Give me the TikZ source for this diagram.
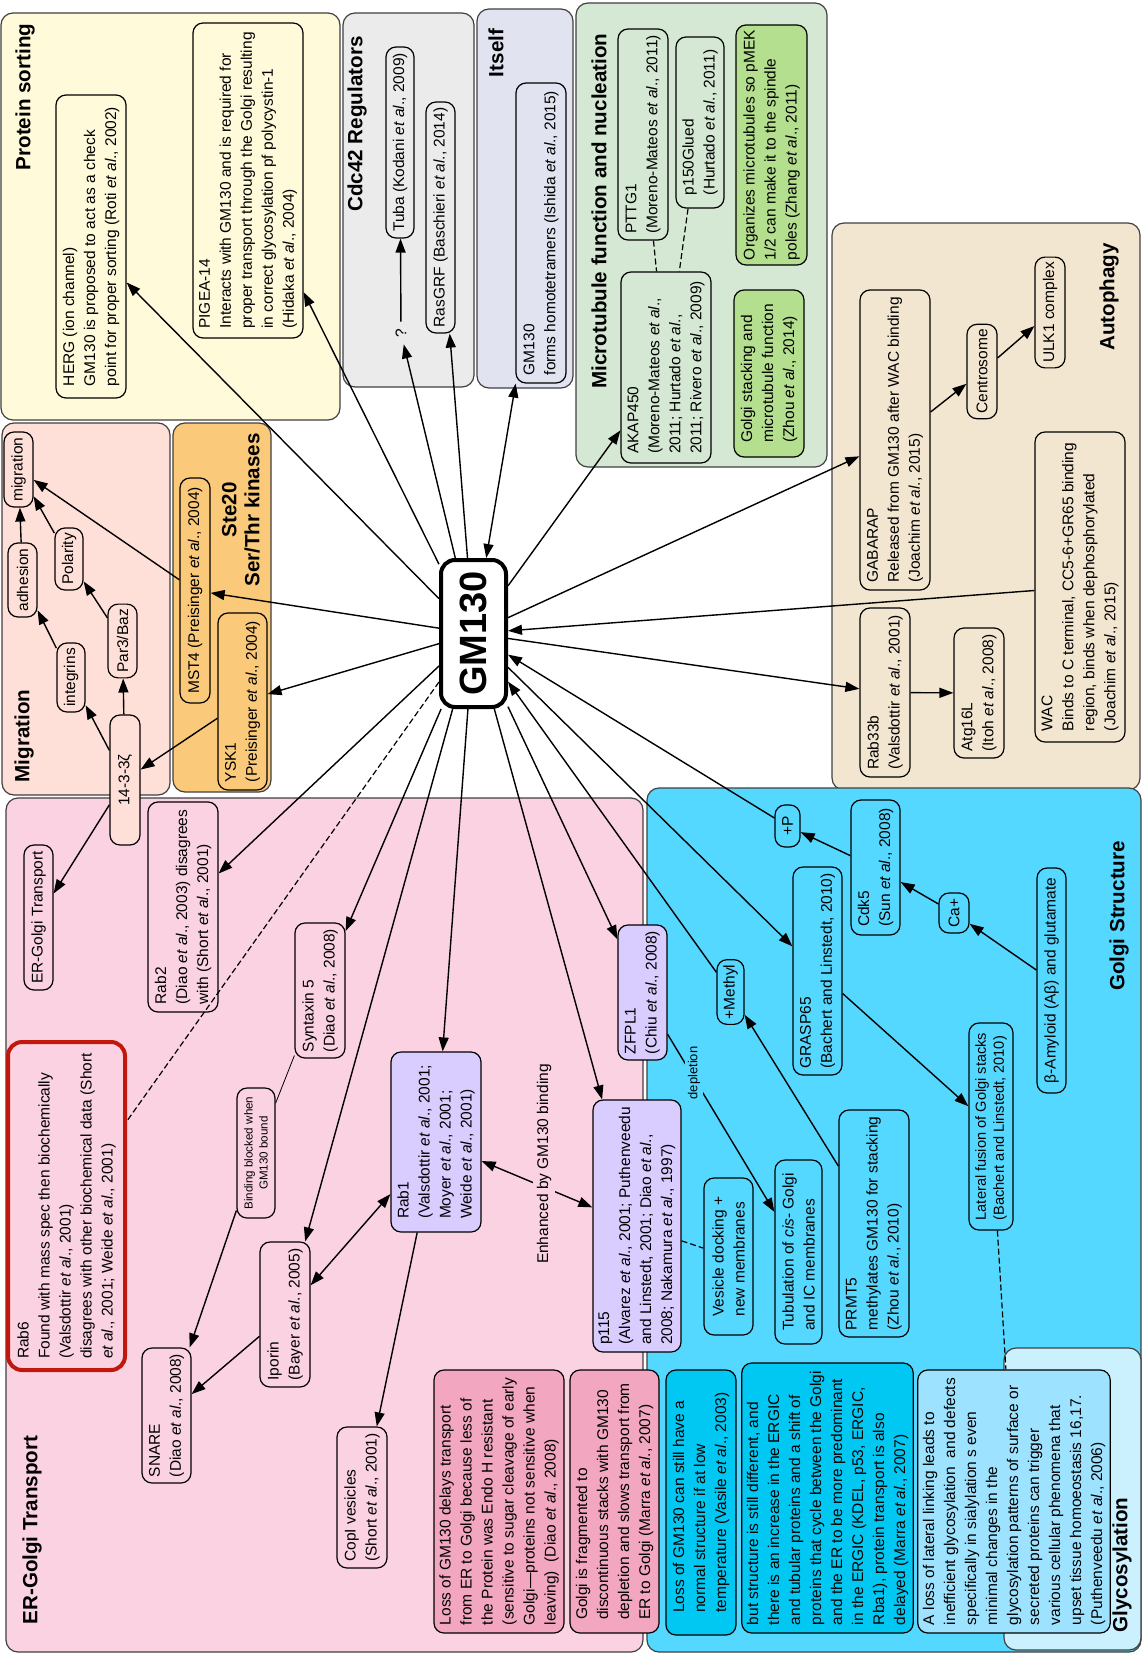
\documentclass[tikz,border=0pt]{standalone}
\usepackage{fontspec}
\setmainfont{Liberation Sans}
\usetikzlibrary{arrows.meta}

\definecolor{sortcol}{HTML}{FFFAD9}
\definecolor{cdccol}{HTML}{EBEBEB}
\definecolor{selfcol}{HTML}{E1E3F0}
\definecolor{micol}{HTML}{D5E8D4}
\definecolor{leafcol}{HTML}{B4DF8E}
\definecolor{autocol}{HTML}{F3E6D0}
\definecolor{migcol}{HTML}{FFE0D8}
\definecolor{stecol}{HTML}{FBC97A}
\definecolor{ergcol}{HTML}{FAD2E1}
\definecolor{dpink}{HTML}{F3A6C0}
\definecolor{golcol}{HTML}{55D8FF}
\definecolor{dcyan}{HTML}{00C8F2}
\definecolor{glycol}{HTML}{CBF1FF}
\definecolor{lcyan}{HTML}{9DE3FF}
\definecolor{lavcol}{HTML}{D9CCFF}
\definecolor{rabred}{HTML}{C0180C}

\newcommand{\boxfont}{\fontsize{7.75}{10.5}\selectfont}
\newcommand{\latfont}{\fontsize{7.3}{9}\selectfont}
\newcommand{\tinyboxfont}{\fontsize{5.8}{7.5}\selectfont}
\newcommand{\depfont}{\fontsize{6.5}{7.5}\selectfont}
\newcommand{\headfont}{\fontsize{10.3}{11.5}\selectfont\bfseries}
\newcommand{\gmfont}{\fontsize{19}{21}\selectfont\bfseries}

\begin{document}
\begin{tikzpicture}[x=0.5pt, y=-0.5pt,
  box/.style={draw, rounded corners=5pt, rotate=90, align=left, inner sep=2.5pt, line width=0.6pt, font=\boxfont},
  sz/.style 2 args={minimum height=#1*0.5pt, minimum width=#2*0.5pt},
  panel/.style={draw=black!75, rounded corners=6pt, line width=0.6pt},
  head/.style={rotate=90, align=center, font=\headfont},
  gmbox/.style={draw, line width=2pt, rounded corners=7pt, rotate=90, fill=white, font=\gmfont, minimum width=73.5pt, minimum height=32.5pt, inner sep=2pt},
  arr/.style={line width=0.7pt, -{Triangle[length=7pt,width=5pt]}},
  arrb/.style={line width=0.7pt, {Triangle[length=7pt,width=5pt]}-{Triangle[length=7pt,width=5pt]}},
  dsh/.style={line width=0.6pt, dash pattern=on 3pt off 1.5pt}]

\useasboundingbox (0,0) rectangle (1142,1653);

% panels
\draw[panel, fill=sortcol] (1,13) rectangle (340,420);
\draw[panel, fill=cdccol] (343,13) rectangle (474,387);
\draw[panel, fill=selfcol] (477,9) rectangle (573,388);
\draw[panel, fill=micol] (576,3) rectangle (827,467);
\draw[panel, fill=autocol] (832,223) rectangle (1140,790);
\draw[panel, fill=migcol] (2,423) rectangle (170,795);
\draw[panel, fill=stecol] (173,423) rectangle (271,792);
\draw[panel, fill=ergcol] (6,798) rectangle (643,1652);
\draw[panel, fill=golcol] (647,788) rectangle (1141,1652);
\draw[panel, fill=glycol] (1004,1348) rectangle (1141,1650);

% protein sorting
\node[head] (tsort) at (25,97) {Protein sorting};
\node[box, sz={70}{303}] (herg) at (91,246.5) {HERG (ion channel)\\GM130 is proposed to act as a check\\point for proper sorting (Roti \textit{et al}., 2002)};
\node[box, sz={110}{315}] (pigea) at (248,180.5) {PIGEA-14\\Interacts with GM130 and is required for\\proper transport through the Golgi resulting\\in correct glycosylation pf polycystin-1\\(Hidaka \textit{et al}., 2004)};

% cdc42
\node[head] (tcdc) at (357,124) {Cdc42 Regulators};
\node[box, sz={28}{191}] (tuba) at (400,142.5) {Tuba (Kodani \textit{et al}., 2009)};
\node[rotate=90, font=\boxfont] (q) at (401,333) {?};
\node[box, sz={29}{231}] (rasgrf) at (440.5,217.5) {RasGRF (Baschieri \textit{et al}., 2014)};

% itself
\node[head] (tself) at (496,53) {Itself};
\node[box, sz={50}{300}] (itself) at (541,233) {GM130\\forms homotetramers (Ishida \textit{et al}., 2015)};

% microtubules
\node[head] (tmicro) at (599,211) {Microtubule function and nucleation};
\node[box, sz={50}{211}] (pttg) at (643,134.5) {PTTG1\\(Moreno-Mateos \textit{et al}., 2011)};
\node[box, sz={48}{171}] (pglued) at (700,122.5) {p150Glued\\(Hurtado \textit{et al}., 2011)};
\node[box, sz={90}{191}] (akap) at (666,367.5) {AKAP450\\(Moreno-Mateos \textit{et al}.,\\2011; Hurtado \textit{et al}.,\\2011; Rivero \textit{et al}., 2009)};
\node[box, fill=leafcol, sz={71}{240}] (organ) at (771.5,145) {Organizes microtubules so pMEK\\1/2 can make it to the spindle\\poles (Zhang \textit{et al}., 2011)};
\node[box, fill=leafcol, sz={70}{167}] (gstack) at (769,373.5) {Golgi stacking and\\microtubule function\\(Zhou \textit{et al}., 2014)};

% autophagy
\node[head] (tauto) at (1109,297) {Autophagy};
\node[box, sz={30}{109}] (ulk) at (1050,312.5) {ULK1 complex};
\node[box, sz={30}{87}] (centro) at (982,371.5) {Centrosome};
\node[box, sz={70}{300}] (gabarap) at (895,440) {GABARAP\\Released from GM130 after WAC binding\\(Joachim \textit{et al}., 2015)};
\node[box, sz={90}{310}] (wac) at (1080,587) {WAC\\Binds to C terminal, CC5-6+GR65 binding\\region, binds when dephosphorylated\\(Joachim \textit{et al}., 2015)};
\node[box, sz={50}{169}] (rabtt) at (885,692.5) {Rab33b\\(Valsdottir \textit{et al}., 2001)};
\node[box, sz={50}{130}] (atg) at (979,693) {Atg16L\\(Itoh \textit{et al}., 2008)};

% migration and kinases
\node[head] (tmig) at (24,736) {Migration};
\node[box, sz={29}{75}] (migr) at (18.5,469.5) {migration};
\node[box, sz={29}{74}] (adh) at (22.5,580) {adhesion};
\node[box, sz={28}{62}] (pol) at (69,559) {Polarity};
\node[box, sz={28}{69}] (integ) at (71,677.5) {integrins};
\node[box, sz={29}{72}] (par) at (122.5,641) {Par3/Baz};
\node[box, fill=migcol, align=center, sz={30}{130}] (ftz) at (125,780) {14-3-3ζ};
\node[head] (tste) at (241,510) {Ste20\\Ser/Thr kinases};
\node[box, sz={30}{225}] (mst) at (195,590.5) {MST4 (Preisinger \textit{et al}., 2004)};
\node[box, sz={49}{177}] (ysk) at (242.5,701.5) {YSK1\\(Preisinger \textit{et al}., 2004)};

% ER-Golgi transport
\node[head] (terg) at (32,1530) {ER-Golgi Transport};
\node[box, sz={29}{145}] (ergt) at (38.5,917.5) {ER-Golgi Transport};
\node[box, sz={70}{210}] (rabtwo) at (183,907) {Rab2\\(Diao \textit{et al}., 2003) disagrees\\with (Short \textit{et al}., 2001)};
\node[box, draw=rabred, line width=2pt, rounded corners=7pt, sz={117}{328}] (rabsix) at (66.5,1206) {Rab6\\Found with mass spec then biochemically\\(Valsdottir \textit{et al}., 2001)\\disagrees with other biochemical data (Short\\\textit{et al}., 2001; Weide \textit{et al}., 2001)};
\node[box, sz={50}{135}] (syn) at (320,990.5) {Syntaxin 5\\(Diao \textit{et al}., 2008)};
\node[box, fill=ergcol, align=center, font=\tinyboxfont, sz={38}{130}] (bind) at (256,1153) {Binding blocked when\\GM130 bound};
\node[box, sz={50}{145}] (ipor) at (285,1314.5) {Iporin\\(Bayer \textit{et al}., 2005)};
\node[box, sz={49}{135}] (snare) at (166.5,1415.5) {SNARE\\(Diao \textit{et al}., 2008)};
\node[box, sz={50}{141}] (copi) at (362,1497.5) {CopI vesicles\\(Short \textit{et al}., 2001)};
\node[box, fill=lavcol, sz={90}{180}] (rabone) at (436,1142) {Rab1\\(Valsdottir \textit{et al}., 2001;\\Moyer \textit{et al}., 2001;\\Weide \textit{et al}., 2001)};
\node[box, fill=lavcol, sz={88}{252}] (pfif) at (637,1226) {p115\\(Alvarez \textit{et al}., 2001; Puthenveedu\\and Linstedt, 2001; Diao \textit{et al}.,\\2008; Nakamura \textit{et al}., 1997)};
\node[box, fill=lavcol, sz={49}{135}] (zfpl) at (642.5,992.5) {ZFPL1\\(Chiu \textit{et al}., 2008)};
\node[box, fill=dpink, sz={130}{263}] (lossdel) at (499,1501.5) {Loss of GM130 delays transport\\from ER to Golgi because less of\\the Protein was Endo H resistant\\(sensitive to sugar cleavage of early\\Golgi—proteins not sensitive when\\leaving)\ \ (Diao \textit{et al}., 2008)};
\node[box, fill=dpink, sz={89}{263}] (gfrag) at (614.5,1501.5) {Golgi is fragmented to\\discontinuous stacks with GM130\\depletion and slows transport from\\ER to Golgi (Marra \textit{et al}., 2007)};

% Golgi structure
\node[head] (tgolgi) at (1119,916) {Golgi Structure};
\node[box, sz={49}{157}] (vesic) at (728.5,1256.5) {Vesicle docking +\\new membranes};
\node[box, sz={47}{184}] (tubul) at (798.5,1252) {Tubulation of \textit{cis}- Golgi\\and IC membranes};
\node[box, sz={27}{60}] (methyl) at (730.5,992) {+Methyl};
\node[box, sz={70}{227}] (prmt) at (874,1223.5) {PRMT5\\methylates GM130 for stacking\\(Zhou \textit{et al}., 2010)};
\node[box, sz={49}{208}] (grasp) at (817.5,971) {GRASP65\\(Bachert and Linstedt, 2010)};
\node[box, font=\latfont, sz={44}{207}] (lateral) at (991,1126.5) {Lateral fusion of Golgi stacks\\(Bachert and Linstedt, 2010)};
\node[box, sz={49}{135}] (cdk) at (875.5,867.5) {Cdk5\\(Sun \textit{et al}., 2008)};
\node[box, sz={25}{42}] (plusp) at (787.5,826) {+P};
\node[box, sz={30}{40}] (ca) at (954,913) {Ca+};
\node[box, sz={29}{225}] (amyl) at (1051.5,980.5) {β-Amyloid (Aβ) and glutamate};
\node[box, fill=dcyan, sz={70}{265}] (lossa) at (701,1502.5) {Loss of GM130 can still have a\\normal structure if at low\\temperature (Vasile \textit{et al}., 2003)};
\node[box, fill=dcyan, sz={169}{270}] (butst) at (827.5,1498) {but structure is still different, and\\there is an increase in the ERGIC\\and tubular proteins and a shift of\\proteins that cycle between the Golgi\\and the ER to be more predominant\\in the ERGIC (KDEL, p53, ERGIC,\\Rba1), protein transport is also\\delayed (Marra \textit{et al}., 2007)};

% glycosylation
\node[head] (tgly) at (1122,1565) {Glycosylation};
\node[box, fill=lcyan, sz={190}{263}] (aloss) at (1014,1501.5) {A loss of lateral linking leads to\\inefficient glycosylation\ \ and defects\\specifically in sialylation s even\\minimal changes in the\\glycosylation patterns of surface or\\secreted proteins can trigger\\various cellular phenomena that\\upset tissue homoeostasis 16,17.\\(Puthenveedu \textit{et al}., 2006)};

% GM130
\node[gmbox] (gm) at (473.5,633.5) {GM130};

% spokes
\draw[arr] (gm) -- (herg);
\draw[arr] (gm) -- (pigea);
\draw[arr] (gm) -- (q);
\draw[arr] (gm) -- (rasgrf);
\draw[arrb] (gm) -- (itself);
\draw[arr] (gm) -- (akap);
\draw[arr] (gm) -- (gabarap);
\draw[arr] (wac) -- (gm);
\draw[arr] (gm) -- (rabtt);
\draw[arr] (plusp) -- (gm);
\draw[arr] (gm) -- (grasp);
\draw[arr] (methyl) -- (gm);
\draw[arr] (gm) -- (zfpl);
\draw[arr] (gm) -- (pfif);
\draw[arr] (gm) -- (rabone);
\draw[arr] (gm) -- (ipor);
\draw[arr] (gm) -- (syn);
\draw[arr] (gm) -- (rabtwo);
\draw[dsh] (gm) -- (rabsix);
\draw[arr] (gm) -- (ysk);
\draw[arr] (gm) -- (mst);

% other links
\draw[arr] (q) -- (tuba);
\draw[dsh] (pttg) -- (akap);
\draw[dsh] (pglued) -- (akap);
\draw[arr] (gabarap) -- (centro);
\draw[arr] (centro) -- (ulk);
\draw[arr] (rabtt) -- (atg);
\draw[arr] (adh) -- (migr);
\draw[arr] (pol) -- (migr);
\draw[arr] (integ) -- (adh);
\draw[arr] (par) -- (pol);
\draw[arr] (ftz) -- (integ);
\draw[arr] (ftz) -- (par);
\draw[arr] (mst) -- (migr);
\draw[arr] (ysk) -- (ftz);
\draw[arr] (ftz) -- (ergt);
\draw (syn) -- (bind);
\draw[arr] (bind) -- (snare);
\draw[arr] (ipor) -- (snare);
\draw[arrb] (rabone) -- (ipor);
\draw[arr] (rabone) -- (copi);
\draw[arrb] (rabone) -- (pfif);
\draw[arr] (zfpl) -- (tubul);
\draw[dsh] (pfif) -- (vesic);
\draw[arr] (prmt) -- (methyl);
\draw[arr] (grasp) -- (lateral);
\draw[dsh] (lateral) -- (aloss);
\draw[arr] (cdk) -- (plusp);
\draw[arr] (ca) -- (cdk);
\draw[arr] (amyl) -- (ca);

% labels on links
\node[rotate=90, fill=ergcol, inner sep=2pt, font=\boxfont] (enh) at (544,1164) {Enhanced by GM130 binding};
\node[rotate=90, fill=golcol, inner sep=1.5pt, font=\depfont] (depl) at (694,1073) {depletion};
\end{tikzpicture}
\end{document}
